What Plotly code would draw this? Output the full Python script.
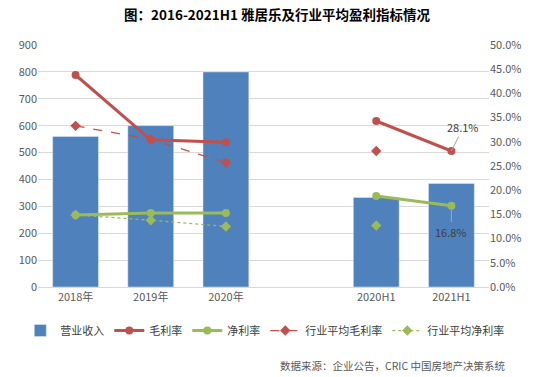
import plotly.graph_objects as go

categories = ["2018年", "2019年", "2020年", " ", "2020H1", "2021H1"]
revenue = [560, 600, 800, None, 333, 385]
gross_margin = [43.8, 30.4, 29.9, None, 34.3, 28.1]
net_margin = [14.9, 15.3, 15.3, None, 18.8, 16.8]
ind_gross = [33.3, 30.5, 25.7, None, 28.1, None]
ind_net = [14.9, 13.8, 12.5, None, 12.7, None]

RED = "#C0504D"
GREEN = "#9BBB59"
BLUE = "#4F81BD"
FONT = "Noto Sans CJK SC"

fig = go.Figure()
fig.add_trace(go.Bar(x=categories, y=revenue, name="营业收入", marker_color=BLUE,
                     width=0.61, yaxis="y"))
fig.add_trace(go.Scatter(x=categories, y=gross_margin, name="毛利率", yaxis="y2",
                         mode="lines+markers", connectgaps=False,
                         line=dict(color=RED, width=3), marker=dict(size=8, color=RED)))
fig.add_trace(go.Scatter(x=categories, y=net_margin, name="净利率", yaxis="y2",
                         mode="lines+markers", connectgaps=False,
                         line=dict(color=GREEN, width=3), marker=dict(size=8, color=GREEN)))
fig.add_trace(go.Scatter(x=categories, y=ind_gross, name="行业平均毛利率", yaxis="y2",
                         mode="lines+markers", connectgaps=False,
                         line=dict(color=RED, width=1.3, dash="dash"),
                         marker=dict(size=8, color=RED, symbol="diamond")))
fig.add_trace(go.Scatter(x=categories, y=ind_net, name="行业平均净利率", yaxis="y2",
                         mode="lines+markers", connectgaps=False,
                         line=dict(color=GREEN, width=1.3, dash="dot"),
                         marker=dict(size=8, color=GREEN, symbol="diamond")))

fig.add_annotation(x="2021H1", y=gross_margin[5], yref="y2", text="28.1%",
                   showarrow=True, arrowhead=0, arrowcolor="#A6A6A6", arrowwidth=1,
                   ax=12, ay=-24, font=dict(size=11, color="#404040", family=FONT))
fig.add_annotation(x="2021H1", y=net_margin[5], yref="y2", text="16.8%",
                   showarrow=True, arrowhead=0, arrowcolor="#A6A6A6", arrowwidth=1,
                   ax=0, ay=26, font=dict(size=11, color="#404040", family=FONT))

fig.update_layout(
    width=554, height=377,
    margin=dict(l=38, r=65, t=45, b=90, autoexpand=False),
    plot_bgcolor="white", paper_bgcolor="white",
    font=dict(family=FONT, color="#595959", size=11),
    title=dict(text="<b>图：2016-2021H1 雅居乐及行业平均盈利指标情况</b>",
               x=0.5, xanchor="center", y=0.96, yanchor="middle",
               font=dict(size=13.5, color="#000000", family=FONT)),
    bargap=0.39,
    xaxis=dict(type="category", categoryorder="array", categoryarray=categories,
               showline=True, linecolor="#D9D9D9", linewidth=1, ticks="",
               tickfont=dict(size=11, color="#595959")),
    yaxis=dict(range=[0, 900], dtick=100, showgrid=True, gridcolor="#D9D9D9",
               zeroline=False, tickfont=dict(size=11, color="#595959")),
    yaxis2=dict(range=[0, 50], dtick=5, overlaying="y", side="right",
                showgrid=False, zeroline=False, ticksuffix="%", tickformat=".1f",
                tickfont=dict(size=11, color="#595959")),
    legend=dict(orientation="h", x=1.045, xanchor="right", y=-0.12, yanchor="top",
                font=dict(size=11, color="#404040"), itemwidth=30,
                tracegroupgap=0),
)
fig.add_annotation(xref="paper", yref="paper", x=1.04, y=-0.325, xanchor="right",
                   yanchor="middle", showarrow=False,
                   text="数据来源：企业公告，CRIC 中国房地产决策系统",
                   font=dict(size=10.5, color="#595959", family=FONT))

fig.write_html("out.html", post_script="document.body.style.margin='0';",
               config={"displayModeBar": False})
